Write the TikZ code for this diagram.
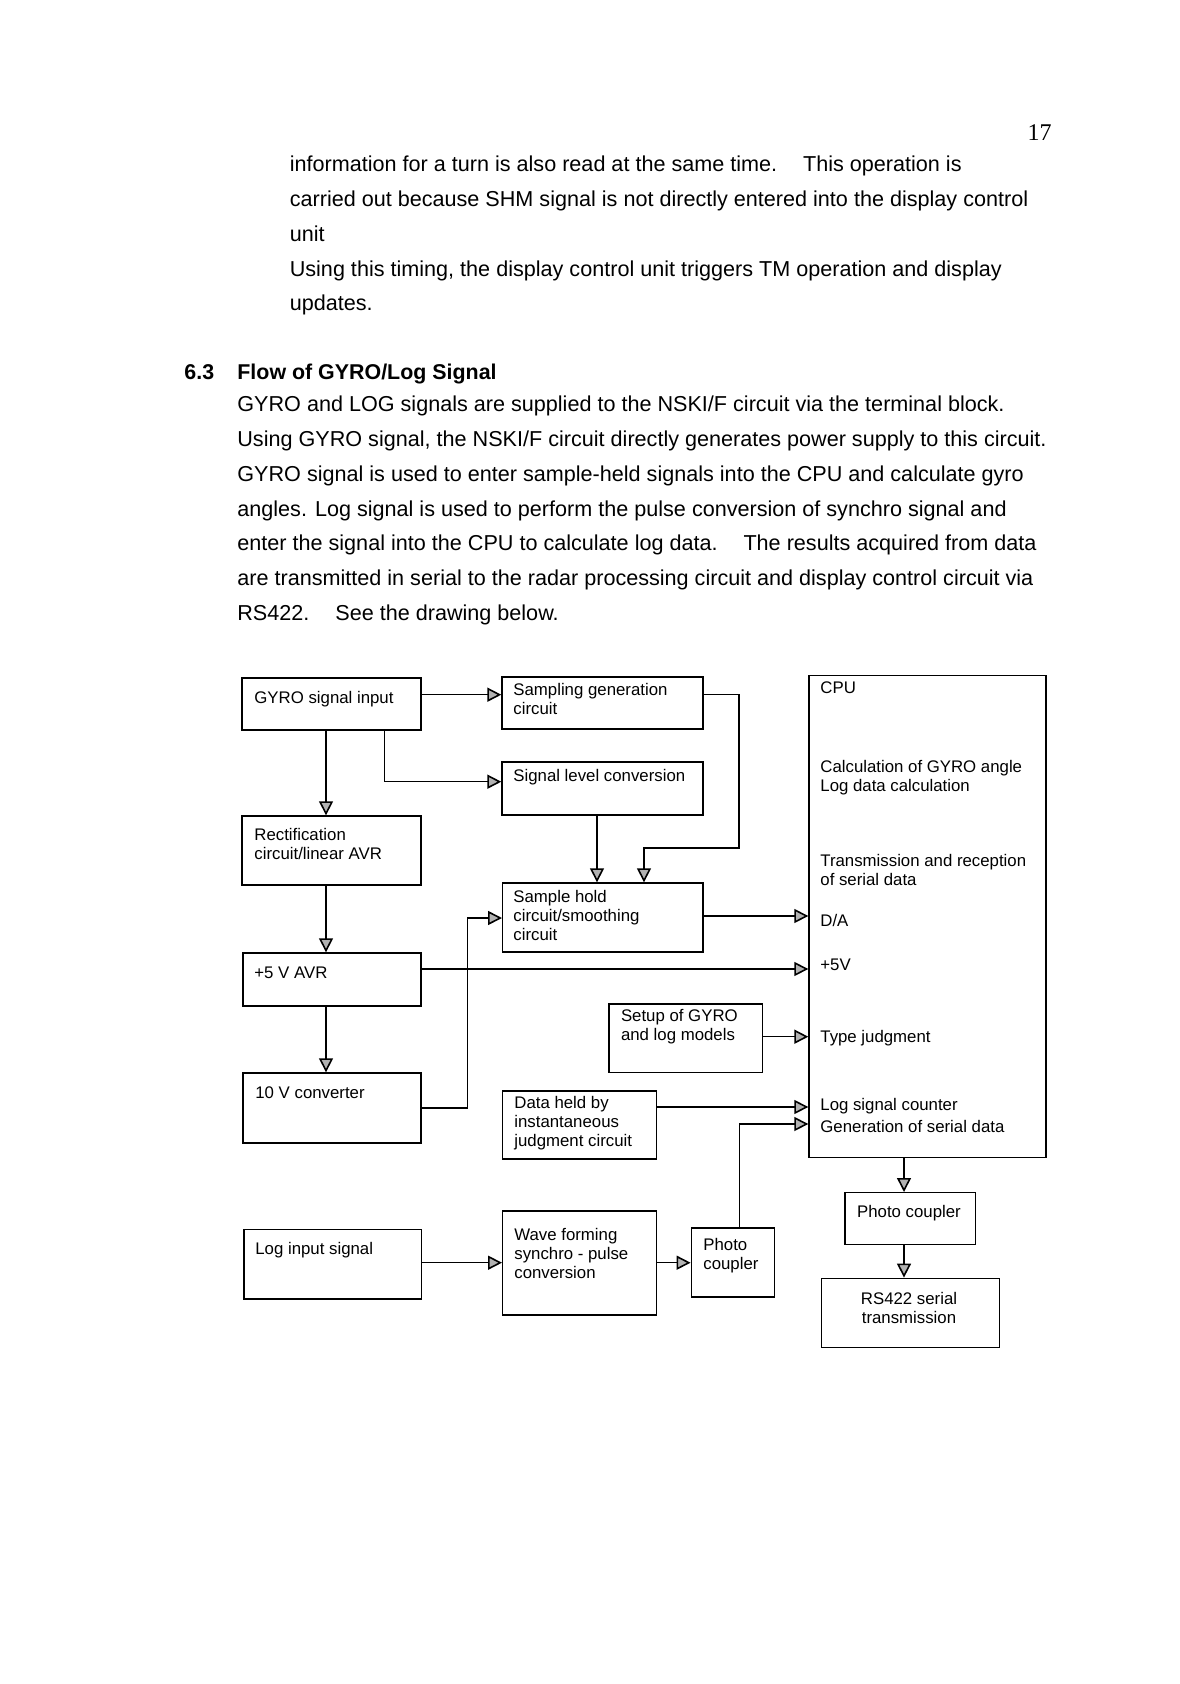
\documentclass[tikz,border=0pt]{standalone}
\usepackage{fontspec}
\setmainfont{Liberation Sans}
\newfontfamily\numfont{Liberation Serif}
\usetikzlibrary{arrows.meta, fit, calc}

\tikzset{
    blk/.style = {draw, line width=0.7pt, inner sep=0pt},
    lbl/.style = {anchor=north west, align=left, inner sep=0pt, font=\fontsize{8.4}{9.5}\selectfont},
    lblc/.style = {anchor=north, align=center, inner sep=0pt, font=\fontsize{8.4}{9.5}\selectfont},
    body/.style = {anchor=base west, inner sep=0pt, font=\fontsize{10.8}{12}\selectfont},
    sig/.style = {line width=0.55pt, -{Triangle[length=7pt, width=7pt, fill=gray!60, line width=0.8pt]}},
}

\begin{document}
\begin{tikzpicture}[x=0.5pt, y=-0.5pt]
    % Parametri
    \pgfmathsetmacro{\pitch}{34.7}
    \pgfmathsetmacro{\up}{4.5}
    \useasboundingbox (0,0) rectangle (1179,1684);
    % Testo della pagina
    \node[anchor=base east, inner sep=0pt, font=\numfont\fontsize{12}{14}\selectfont] (pagenum) at (1052,141) {17};
    \foreach \riga [count=\i from 0] in {
        {information for a turn is also read at the same time.\hspace{1.2em}This operation is},
        {carried out because SHM signal is not directly entered into the display control},
        {unit},
        {Using this timing, the display control unit triggers TM operation and display},
        {updates.}}
        \node[body] (top\i) at (289.4,{172+\i*\pitch}) {\riga};
    \node[body, font=\fontsize{10.7}{12}\selectfont\bfseries] (secnum) at (184,380) {6.3};
    \node[body, font=\fontsize{10.7}{12}\selectfont\bfseries] (sectitle) at (237,380) {Flow of GYRO/Log Signal};
    \foreach \riga [count=\i from 0] in {
        {GYRO and LOG signals are supplied to the NSKI/F circuit via the terminal block.},
        {Using GYRO signal, the NSKI/F circuit directly generates power supply to this circuit.},
        {GYRO signal is used to enter sample-held signals into the CPU and calculate gyro},
        {angles. Log signal is used to perform the pulse conversion of synchro signal and},
        {enter the signal into the CPU to calculate log data.\hspace{1.2em}The results acquired from data},
        {are transmitted in serial to the radar processing circuit and display control circuit via},
        {RS422.\hspace{1.2em}See the drawing below.}}
        \node[body] (par\i) at (237,{412+\i*\pitch}) {\riga};
    % Blocchi
    \node[blk, fit={(242,678) (421,730)}] (gyro) {};
    \node[blk, fit={(502,677) (703,729)}] (samp) {};
    \node[blk, fit={(502,762) (703,815)}] (siglvl) {};
    \node[blk, fit={(242,816) (421,885)}] (rect) {};
    \node[blk, fit={(502.7,883) (703,952)}] (shold) {};
    \node[blk, fit={(243,953) (421,1006)}] (p5) {};
    \node[blk, fit={(609,1004) (762.7,1072.5)}] (setup) {};
    \node[blk, fit={(243,1073) (421,1143)}] (ten) {};
    \node[blk, fit={(502.7,1091) (656.7,1159)}] (datah) {};
    \node[blk, fit={(244,1229.5) (421.3,1299)}] (login) {};
    \node[blk, fit={(502.7,1211) (656.7,1315)}] (wave) {};
    \node[blk, fit={(691.3,1228) (774.3,1297)}] (photo) {};
    \node[blk, fit={(809,675.5) (1046,1157.5)}] (cpu) {};
    \node[blk, fit={(845,1192.7) (975.7,1244.3)}] (pcoup) {};
    \node[blk, fit={(821.7,1278.3) (999.3,1347.7)}] (rs) {};
    % Scritte nei blocchi
    \node[lbl] (gyrotxt) at (254,{695.6-\up}) {GYRO signal input};
    \node[lbl] (samptxt) at (513,{687-\up}) {Sampling generation\\circuit};
    \node[lbl] (siglvltxt) at (513,{773-\up}) {Signal level conversion};
    \node[lbl] (recttxt) at (254,{832-\up}) {Rectification\\circuit/linear AVR};
    \node[lbl] (sholdtxt) at (513,{894-\up}) {Sample hold\\circuit/smoothing\\circuit};
    \node[lbl] (p5txt) at (254,{971-\up}) {+5 V AVR};
    \node[lbl] (setuptxt) at (620.6,{1013-\up}) {Setup of GYRO\\and log models};
    \node[lbl] (tentxt) at (255,{1091-\up}) {10 V converter};
    \node[lbl] (datahtxt) at (514,{1100-\up}) {Data held by\\instantaneous\\judgment circuit};
    \node[lbl] (logintxt) at (255,{1246.5-\up}) {Log input signal};
    \node[lbl] (wavetxt) at (514,{1232.6-\up}) {Wave forming\\synchro - pulse\\conversion};
    \node[lbl] (phototxt) at (703,{1242-\up}) {Photo\\coupler};
    \node[lbl] (cputxt) at (820,{686-\up}) {CPU};
    \node[lbl] (calctxt) at (820,{764-\up}) {Calculation of GYRO angle\\Log data calculation};
    \node[lbl] (trxtxt) at (820,{858-\up}) {Transmission and reception\\of serial data};
    \node[lbl] (datxt) at (820,{918.5-\up}) {D/A};
    \node[lbl] (vtxt) at (820,{963.5-\up}) {+5V};
    \node[lbl] (typetxt) at (820,{1034-\up}) {Type judgment};
    \node[lbl] (cnttxt) at (820,{1102-\up}) {Log signal counter};
    \node[lbl] (gentxt) at (820,{1124-\up}) {Generation of serial data};
    \node[lblc] (pcouptxt) at (909,{1209-\up}) {Photo coupler};
    \node[lblc] (rstxt) at (909,{1296-\up}) {RS422 serial\\transmission};
    % Livelli dei collegamenti
    \coordinate (yGS) at (0,694.7);
    \coordinate (yGL) at (0,781.7);
    \coordinate (ySH) at (0,848);
    \coordinate (yTS) at (0,918);
    \coordinate (yTC) at (0,1108);
    \coordinate (yDA) at (0,916);
    \coordinate (yP5) at (0,969);
    \coordinate (yTJ) at (0,1036.7);
    \coordinate (yDH) at (0,1107);
    \coordinate (yGE) at (0,1124);
    \coordinate (yLI) at (0,1262.7);
    \coordinate (xV) at (326,0);
    \coordinate (xGL) at (384.3,0);
    \coordinate (xSR) at (739,0);
    \coordinate (xSL) at (644,0);
    \coordinate (xSC) at (597,0);
    \coordinate (xTC) at (467.7,0);
    \coordinate (xPC) at (739.5,0);
    \coordinate (xCP) at (904,0);
    % Collegamenti
    \draw[sig] (gyro.east |- yGS) -- (samp.west |- yGS);
    \draw[sig] (gyro.south -| xGL) |- (siglvl.west |- yGL);
    \draw[sig] (gyro.south -| xV) -- (rect.north -| xV);
    \draw[sig] (samp.east |- yGS) -| (xSR |- ySH) -| (shold.north -| xSL);
    \draw[sig] (siglvl.south -| xSC) -- (shold.north -| xSC);
    \draw[sig] (rect.south -| xV) -- (p5.north -| xV);
    \draw[sig] (p5.south -| xV) -- (ten.north -| xV);
    \draw[sig] (ten.east |- yTC) -| (xTC |- yTS) -- (shold.west |- yTS);
    \draw[sig] (shold.east |- yDA) -- (cpu.west |- yDA);
    \draw[sig] (p5.east |- yP5) -- (cpu.west |- yP5);
    \draw[sig] (setup.east |- yTJ) -- (cpu.west |- yTJ);
    \draw[sig] (datah.east |- yDH) -- (cpu.west |- yDH);
    \draw[sig] (photo.north -| xPC) |- (cpu.west |- yGE);
    \draw[sig] (login.east |- yLI) -- (wave.west |- yLI);
    \draw[sig] (wave.east |- yLI) -- (photo.west |- yLI);
    \draw[sig] (cpu.south -| xCP) -- (pcoup.north -| xCP);
    \draw[sig] (pcoup.south -| xCP) -- (rs.north -| xCP);
\end{tikzpicture}
\end{document}
